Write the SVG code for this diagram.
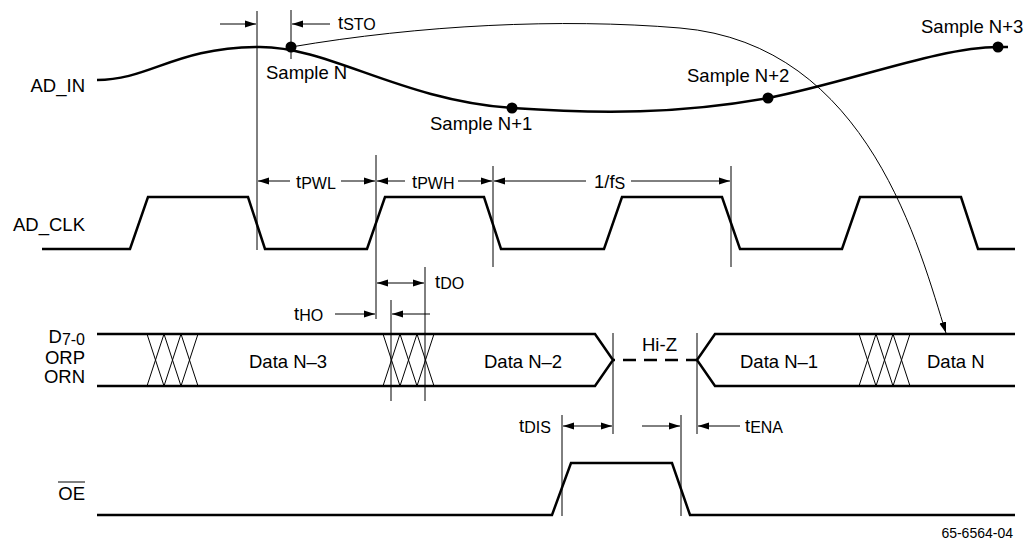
<svg xmlns="http://www.w3.org/2000/svg" width="1031" height="542" viewBox="0 0 1031 542">
<defs>
<style>
text{font-family:"Liberation Sans",Arial,Helvetica,sans-serif;font-size:18.5px;fill:#000}
.sub{font-size:16px}
.small{font-size:14px}
.sig{fill:none;stroke:#000;stroke-width:2.5;stroke-linejoin:miter}
.thin{fill:none;stroke:#000;stroke-width:1}
.dim{fill:none;stroke:#000;stroke-width:1;marker-end:url(#ah)}
.dim2{fill:none;stroke:#000;stroke-width:1;marker-end:url(#ah);marker-start:url(#ahs)}
.dot{fill:#000}
</style>
<marker id="ah" markerUnits="userSpaceOnUse" markerWidth="11" markerHeight="8" refX="11" refY="4" orient="auto"><path d="M0,0.5 L11,4 L0,7.5 z" fill="#000"/></marker>
<marker id="ahs" markerUnits="userSpaceOnUse" markerWidth="11" markerHeight="8" refX="11" refY="4" orient="auto-start-reverse"><path d="M0,0.5 L11,4 L0,7.5 z" fill="#000"/></marker>
</defs>
<rect width="1031" height="542" fill="#fff"/>

<g id="ad-in">
<text x="85" y="92" text-anchor="end">AD_IN</text>
<path class="sig" d="M97,80 C150,80 175,47 260,47 C330,47 400,100 512,108 C600,114 680,114 768,98 C850,82 940,47 998,47 L1008,47"/>
<circle class="dot" cx="291" cy="47" r="5.5"/>
<circle class="dot" cx="512" cy="108" r="5.5"/>
<circle class="dot" cx="768" cy="98" r="5.5"/>
<circle class="dot" cx="998" cy="47" r="5.5"/>
<text x="266" y="79">Sample N</text>
<text x="430" y="130">Sample N+1</text>
<text x="687" y="82">Sample N+2</text>
<text x="921" y="33">Sample N+3</text>
</g>

<g id="ad-clk">
<text x="85" y="231" text-anchor="end">AD_CLK</text>
<path class="sig" d="M42,249 L130,249 L148,197 L248,197 L265,249 L367,249 L385,197 L484,197 L501,249 L604,249 L622,197 L722,197 L740,249 L842,249 L860,197 L961,197 L978,249 L1015,249"/>
</g>

<g id="data-bus">
<text x="85" y="343" text-anchor="end">D<tspan class="sub" dy="2">7-0</tspan></text>
<text x="85" y="364" text-anchor="end">ORP</text>
<text x="85" y="383" text-anchor="end">ORN</text>
<path class="sig" d="M97,334 L595,334 L613,360 L595,386 L97,386"/>
<path class="sig" d="M1015,334 L715,334 L697,360 L715,386 L1015,386"/>
<path class="sig" d="M613,360 L697,360" stroke-dasharray="13 8" stroke-dashoffset="11"/>
<path class="thin" d="M147,334 L164,386 M164,334 L147,386 M164,334 L181,386 M181,334 L164,386 M181,334 L198,386 M198,334 L181,386"/>
<path class="thin" d="M383,334 L400,386 M400,334 L383,386 M400,334 L417,386 M417,334 L400,386 M417,334 L434,386 M434,334 L417,386"/>
<path class="thin" d="M859,334 L876,386 M876,334 L859,386 M876,334 L893,386 M893,334 L876,386 M893,334 L910,386 M910,334 L893,386"/>
<text x="249" y="368">Data N–3</text>
<text x="484" y="368">Data N–2</text>
<text x="642" y="351">Hi-Z</text>
<text x="740" y="368">Data N–1</text>
<text x="927" y="368">Data N</text>
</g>

<g id="oe">
<text x="85" y="500" text-anchor="end">OE</text>
<line class="thin" x1="58" y1="482" x2="85" y2="482"/>
<path class="sig" d="M97,515 L552,515 L571,463 L672,463 L690,515 L1015,515"/>
</g>

<g id="connectors">
<path class="thin" d="M257,11 V250 M291,10 V59 M376,155 V319 M493,166 V267 M731,166 V267 M391,300 V401 M425,267 V401 M613,333 V434 M697,333 V434 M562,415 V516 M681,415 V516"/>
<path class="dim" d="M220,24 H256"/>
<path class="dim" d="M330,24 H292"/>
<text x="338" y="29">t<tspan class="sub" dy="1">STO</tspan></text>
<path class="dim" d="M290,181 H258"/>
<path class="dim" d="M341,181 H375"/>
<text x="296" y="188">t<tspan class="sub" dy="1">PWL</tspan></text>
<path class="dim" d="M405,181 H377"/>
<path class="dim" d="M458,181 H492"/>
<text x="412" y="188">t<tspan class="sub" dy="1">PWH</tspan></text>
<path class="dim" d="M586,181 H494"/>
<path class="dim" d="M631,181 H730"/>
<text x="594" y="188">1/f<tspan class="sub" dy="1">S</tspan></text>
<path class="dim2" d="M377,283 H424"/>
<text x="435" y="288">t<tspan class="sub" dy="1">DO</tspan></text>
<path class="dim" d="M335,314 H375"/>
<path class="dim" d="M430,314 H392"/>
<text x="294" y="320">t<tspan class="sub" dy="1">HO</tspan></text>
<path class="dim2" d="M563,426 H612"/>
<text x="519" y="432">t<tspan class="sub" dy="1">DIS</tspan></text>
<path class="dim" d="M642,426 H680"/>
<path class="dim" d="M740,426 H698"/>
<text x="745" y="432">t<tspan class="sub" dy="1">ENA</tspan></text>
<path class="dim" d="M291,47 C420,25 560,18 680,28 C870,44 920,252 946,333"/>
</g>

<text class="small" x="1013" y="538" text-anchor="end">65-6564-04</text>
</svg>
